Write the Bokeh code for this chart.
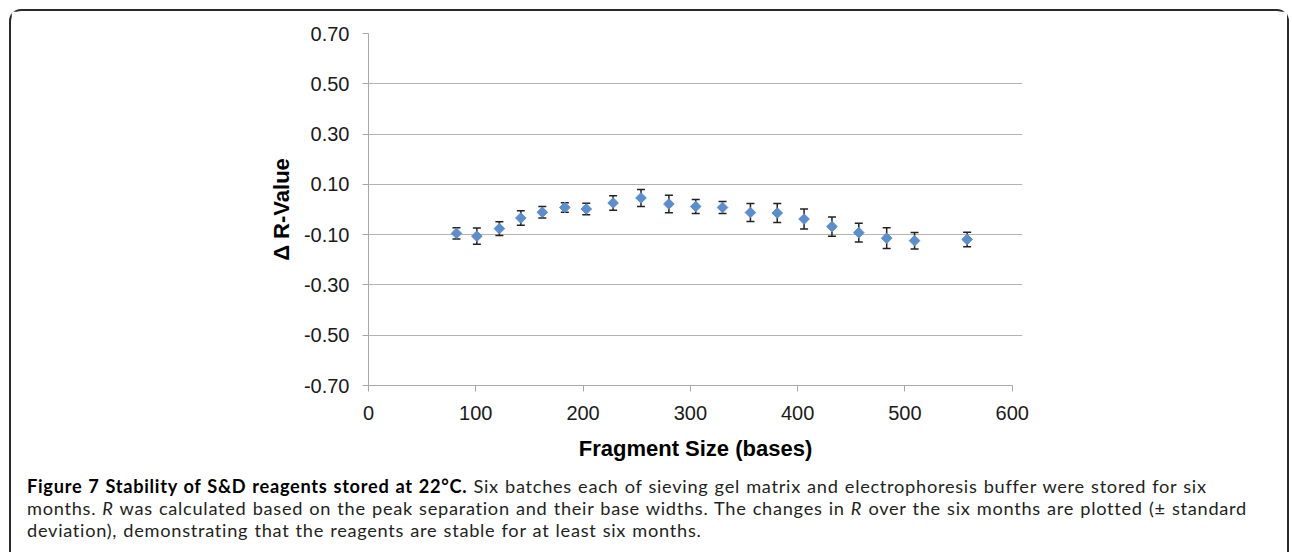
from bokeh.plotting import figure
from bokeh.models import ColumnDataSource, Whisker, TeeHead, FixedTicker, NumeralTickFormatter, Div
from bokeh.layouts import column
from bokeh.embed import file_html
from bokeh.resources import INLINE

# ---- data ----
fragment_sizes = [82, 101, 122, 142, 162, 183, 203, 228, 254, 280,
                  305, 330, 356, 381, 406, 432, 457, 483, 509, 558]
delta_r = [-0.095, -0.106, -0.076, -0.034, -0.011, 0.008, 0.002, 0.026, 0.046, 0.022,
           0.012, 0.008, -0.012, -0.014, -0.038, -0.068, -0.092, -0.114, -0.124, -0.119]
std_dev = [0.022, 0.032, 0.027, 0.029, 0.023, 0.019, 0.023, 0.029, 0.034, 0.035,
           0.028, 0.024, 0.036, 0.038, 0.040, 0.038, 0.037, 0.041, 0.033, 0.029]
y_ticks = [-0.7, -0.5, -0.3, -0.1, 0.1, 0.3, 0.5, 0.7]
x_ticks = [0, 100, 200, 300, 400, 500, 600]
x_title = "Fragment Size (bases)"
y_title = "\u0394 R-Value"
caption_bold = "Figure 7 Stability of S&amp;D reagents stored at 22\u00b0C."
caption_rest = ("Six batches each of sieving gel matrix and electrophoresis buffer were stored for six<br>"
                "months. <i>R</i> was calculated based on the peak separation and their base widths. "
                "The changes in <i>R</i> over the six months are plotted (\u00b1 standard<br>"
                "deviation), demonstrating that the reagents are stable for at least six months.")

src = ColumnDataSource(dict(
    x=fragment_sizes,
    y=delta_r,
    upper=[v + s for v, s in zip(delta_r, std_dev)],
    lower=[v - s for v, s in zip(delta_r, std_dev)],
))

FONT = "Liberation Sans"

p = figure(width=1276, height=454, x_range=(0, 609.6), y_range=(-0.7, 0.7),
           output_backend="svg", toolbar_location=None,
           min_border_left=357, min_border_right=265, min_border_top=22, min_border_bottom=80)
p.outline_line_color = None
p.background_fill_color = "white"
p.border_fill_color = "white"

# axes
for ax in (p.xaxis[0], p.yaxis[0]):
    ax.axis_line_color = "#a8a8a8"
    ax.axis_line_width = 1
    ax.major_tick_line_color = "#a8a8a8"
    ax.major_tick_out = 6
    ax.major_tick_in = 0
    ax.minor_tick_line_color = None
    ax.major_label_text_font = FONT
    ax.major_label_text_font_size = "20px"
    ax.major_label_text_color = "#1a1a1a"
    ax.axis_label_text_font = FONT
    ax.axis_label_text_font_size = "22px"
    ax.axis_label_text_font_style = "bold"
    ax.axis_label_text_color = "#000000"

p.xaxis.ticker = FixedTicker(ticks=x_ticks)
p.xaxis.bounds = (0, 600)
p.yaxis.ticker = FixedTicker(ticks=y_ticks)
p.yaxis.formatter = NumeralTickFormatter(format="0.00")
p.xaxis.axis_label = x_title
p.yaxis.axis_label = y_title
p.yaxis.major_label_standoff = 13
p.xaxis.major_label_standoff = 14
p.yaxis.axis_label_standoff = 7
p.xaxis.axis_label_standoff = 13

p.xgrid.grid_line_color = None
p.ygrid.ticker = FixedTicker(ticks=y_ticks[1:])
p.ygrid.grid_line_color = "#b4b4b4"
p.ygrid.grid_line_width = 1.2

# error bars
wh = Whisker(source=src, base="x", upper="upper", lower="lower",
             line_color="#222222", line_width=1.5,
             upper_head=TeeHead(size=8, line_color="#222222", line_width=1.5),
             lower_head=TeeHead(size=8, line_color="#222222", line_width=1.5))
p.add_layout(wh)

p.scatter("x", "y", source=src, marker="square", angle=0.785398, size=7.5,
          fill_color="#5b8ecf", line_color="#5b8ecf")

cap = Div(text=f'<b style="color:#000">{caption_bold}</b> {caption_rest}',
          width=1256, height=72,
          styles={"font-family": "Lato", "font-size": "18.2px", "line-height": "22px",
                  "letter-spacing": "0.72px", "word-spacing": "0.8px",
                  "color": "#231f20", "white-space": "nowrap", "padding-left": "11px",
                  "margin-top": "10px"})

lay = column(p, cap, margin=(9, 0, 0, 9),
             styles={"border-top": "2px solid #2a2a2a", "border-left": "2px solid #2a2a2a",
                     "border-right": "2px solid #2a2a2a", "border-radius": "12px 12px 0 0",
                     "background": "white"})

open("out.html", "w").write(file_html(lay, INLINE))
